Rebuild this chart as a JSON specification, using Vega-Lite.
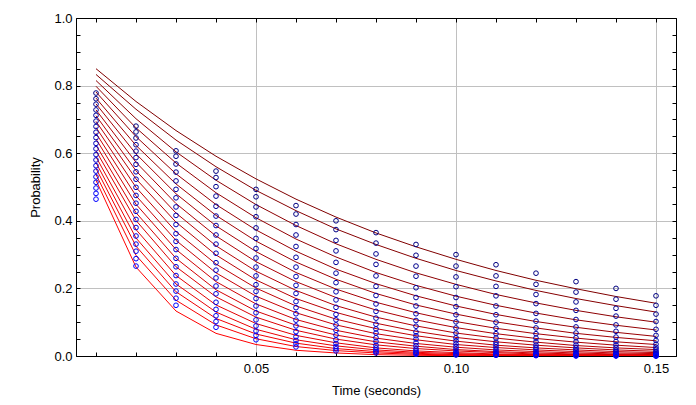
{
"$schema": "https://vega.github.io/schema/vega-lite/v6.json",
"width": 600, "height": 338,
"autosize": {"type": "none"},
"padding": {"left": 76, "top": 18, "right": 20, "bottom": 49},
"background": "white",
"config": {"view": {"stroke": "black", "strokeWidth": 1}, "font": "Liberation Sans"},
"data": {"values": [
{"s":0,"t":0.01,"l":0.850,"c":0.778},{"s":0,"t":0.02,"l":0.753,"c":0.680},{"s":0,"t":0.03,"l":0.667,"c":0.607},{"s":0,"t":0.04,"l":0.591,"c":0.547},{"s":0,"t":0.05,"l":0.524,"c":0.493},{"s":0,"t":0.06,"l":0.464,"c":0.445},{"s":0,"t":0.07,"l":0.411,"c":0.400},{"s":0,"t":0.08,"l":0.364,"c":0.365},{"s":0,"t":0.09,"l":0.323,"c":0.330},{"s":0,"t":0.10,"l":0.286,"c":0.300},{"s":0,"t":0.11,"l":0.253,"c":0.270},{"s":0,"t":0.12,"l":0.224,"c":0.245},{"s":0,"t":0.13,"l":0.199,"c":0.220},{"s":0,"t":0.14,"l":0.176,"c":0.200},{"s":0,"t":0.15,"l":0.156,"c":0.178},
{"s":1,"t":0.01,"l":0.833,"c":0.761},{"s":1,"t":0.02,"l":0.730,"c":0.663},{"s":1,"t":0.03,"l":0.639,"c":0.591},{"s":1,"t":0.04,"l":0.560,"c":0.528},{"s":1,"t":0.05,"l":0.490,"c":0.471},{"s":1,"t":0.06,"l":0.430,"c":0.420},{"s":1,"t":0.07,"l":0.376,"c":0.374},{"s":1,"t":0.08,"l":0.330,"c":0.334},{"s":1,"t":0.09,"l":0.289,"c":0.298},{"s":1,"t":0.10,"l":0.253,"c":0.266},{"s":1,"t":0.11,"l":0.222,"c":0.237},{"s":1,"t":0.12,"l":0.194,"c":0.212},{"s":1,"t":0.13,"l":0.170,"c":0.189},{"s":1,"t":0.14,"l":0.149,"c":0.168},{"s":1,"t":0.15,"l":0.130,"c":0.150},
{"s":2,"t":0.01,"l":0.815,"c":0.745},{"s":2,"t":0.02,"l":0.702,"c":0.645},{"s":2,"t":0.03,"l":0.604,"c":0.568},{"s":2,"t":0.04,"l":0.520,"c":0.501},{"s":2,"t":0.05,"l":0.448,"c":0.441},{"s":2,"t":0.06,"l":0.386,"c":0.389},{"s":2,"t":0.07,"l":0.332,"c":0.342},{"s":2,"t":0.08,"l":0.286,"c":0.302},{"s":2,"t":0.09,"l":0.246,"c":0.266},{"s":2,"t":0.10,"l":0.212,"c":0.234},{"s":2,"t":0.11,"l":0.182,"c":0.206},{"s":2,"t":0.12,"l":0.157,"c":0.182},{"s":2,"t":0.13,"l":0.135,"c":0.160},{"s":2,"t":0.14,"l":0.116,"c":0.141},{"s":2,"t":0.15,"l":0.100,"c":0.124},
{"s":3,"t":0.01,"l":0.798,"c":0.728},{"s":3,"t":0.02,"l":0.675,"c":0.625},{"s":3,"t":0.03,"l":0.571,"c":0.544},{"s":3,"t":0.04,"l":0.483,"c":0.473},{"s":3,"t":0.05,"l":0.409,"c":0.412},{"s":3,"t":0.06,"l":0.346,"c":0.358},{"s":3,"t":0.07,"l":0.293,"c":0.311},{"s":3,"t":0.08,"l":0.247,"c":0.271},{"s":3,"t":0.09,"l":0.209,"c":0.236},{"s":3,"t":0.10,"l":0.177,"c":0.205},{"s":3,"t":0.11,"l":0.150,"c":0.178},{"s":3,"t":0.12,"l":0.127,"c":0.155},{"s":3,"t":0.13,"l":0.107,"c":0.135},{"s":3,"t":0.14,"l":0.091,"c":0.118},{"s":3,"t":0.15,"l":0.077,"c":0.102},
{"s":4,"t":0.01,"l":0.781,"c":0.712},{"s":4,"t":0.02,"l":0.649,"c":0.606},{"s":4,"t":0.03,"l":0.539,"c":0.518},{"s":4,"t":0.04,"l":0.448,"c":0.443},{"s":4,"t":0.05,"l":0.373,"c":0.379},{"s":4,"t":0.06,"l":0.310,"c":0.324},{"s":4,"t":0.07,"l":0.257,"c":0.277},{"s":4,"t":0.08,"l":0.214,"c":0.237},{"s":4,"t":0.09,"l":0.178,"c":0.202},{"s":4,"t":0.10,"l":0.148,"c":0.173},{"s":4,"t":0.11,"l":0.123,"c":0.148},{"s":4,"t":0.12,"l":0.102,"c":0.126},{"s":4,"t":0.13,"l":0.085,"c":0.108},{"s":4,"t":0.14,"l":0.070,"c":0.092},{"s":4,"t":0.15,"l":0.058,"c":0.079},
{"s":5,"t":0.01,"l":0.763,"c":0.695},{"s":5,"t":0.02,"l":0.623,"c":0.587},{"s":5,"t":0.03,"l":0.509,"c":0.493},{"s":5,"t":0.04,"l":0.416,"c":0.414},{"s":5,"t":0.05,"l":0.340,"c":0.348},{"s":5,"t":0.06,"l":0.278,"c":0.292},{"s":5,"t":0.07,"l":0.227,"c":0.245},{"s":5,"t":0.08,"l":0.185,"c":0.206},{"s":5,"t":0.09,"l":0.151,"c":0.173},{"s":5,"t":0.10,"l":0.124,"c":0.146},{"s":5,"t":0.11,"l":0.101,"c":0.122},{"s":5,"t":0.12,"l":0.083,"c":0.103},{"s":5,"t":0.13,"l":0.067,"c":0.086},{"s":5,"t":0.14,"l":0.055,"c":0.073},{"s":5,"t":0.15,"l":0.045,"c":0.061},
{"s":6,"t":0.01,"l":0.746,"c":0.679},{"s":6,"t":0.02,"l":0.598,"c":0.567},{"s":6,"t":0.03,"l":0.480,"c":0.468},{"s":6,"t":0.04,"l":0.385,"c":0.386},{"s":6,"t":0.05,"l":0.309,"c":0.318},{"s":6,"t":0.06,"l":0.247,"c":0.263},{"s":6,"t":0.07,"l":0.198,"c":0.217},{"s":6,"t":0.08,"l":0.159,"c":0.179},{"s":6,"t":0.09,"l":0.128,"c":0.148},{"s":6,"t":0.10,"l":0.102,"c":0.122},{"s":6,"t":0.11,"l":0.082,"c":0.100},{"s":6,"t":0.12,"l":0.066,"c":0.083},{"s":6,"t":0.13,"l":0.053,"c":0.068},{"s":6,"t":0.14,"l":0.042,"c":0.056},{"s":6,"t":0.15,"l":0.034,"c":0.046},
{"s":7,"t":0.01,"l":0.728,"c":0.662},{"s":7,"t":0.02,"l":0.573,"c":0.545},{"s":7,"t":0.03,"l":0.451,"c":0.441},{"s":7,"t":0.04,"l":0.355,"c":0.358},{"s":7,"t":0.05,"l":0.279,"c":0.290},{"s":7,"t":0.06,"l":0.220,"c":0.235},{"s":7,"t":0.07,"l":0.173,"c":0.190},{"s":7,"t":0.08,"l":0.136,"c":0.154},{"s":7,"t":0.09,"l":0.107,"c":0.125},{"s":7,"t":0.10,"l":0.084,"c":0.101},{"s":7,"t":0.11,"l":0.066,"c":0.082},{"s":7,"t":0.12,"l":0.052,"c":0.066},{"s":7,"t":0.13,"l":0.041,"c":0.054},{"s":7,"t":0.14,"l":0.032,"c":0.043},{"s":7,"t":0.15,"l":0.025,"c":0.035},
{"s":8,"t":0.01,"l":0.711,"c":0.646},{"s":8,"t":0.02,"l":0.548,"c":0.523},{"s":8,"t":0.03,"l":0.423,"c":0.416},{"s":8,"t":0.04,"l":0.326,"c":0.331},{"s":8,"t":0.05,"l":0.251,"c":0.263},{"s":8,"t":0.06,"l":0.194,"c":0.209},{"s":8,"t":0.07,"l":0.149,"c":0.166},{"s":8,"t":0.08,"l":0.115,"c":0.132},{"s":8,"t":0.09,"l":0.089,"c":0.105},{"s":8,"t":0.10,"l":0.068,"c":0.083},{"s":8,"t":0.11,"l":0.053,"c":0.066},{"s":8,"t":0.12,"l":0.041,"c":0.053},{"s":8,"t":0.13,"l":0.031,"c":0.042},{"s":8,"t":0.14,"l":0.024,"c":0.033},{"s":8,"t":0.15,"l":0.019,"c":0.026},
{"s":9,"t":0.01,"l":0.694,"c":0.629},{"s":9,"t":0.02,"l":0.524,"c":0.499},{"s":9,"t":0.03,"l":0.396,"c":0.389},{"s":9,"t":0.04,"l":0.299,"c":0.304},{"s":9,"t":0.05,"l":0.225,"c":0.237},{"s":9,"t":0.06,"l":0.170,"c":0.185},{"s":9,"t":0.07,"l":0.129,"c":0.144},{"s":9,"t":0.08,"l":0.097,"c":0.112},{"s":9,"t":0.09,"l":0.073,"c":0.088},{"s":9,"t":0.10,"l":0.055,"c":0.068},{"s":9,"t":0.11,"l":0.042,"c":0.053},{"s":9,"t":0.12,"l":0.032,"c":0.042},{"s":9,"t":0.13,"l":0.024,"c":0.032},{"s":9,"t":0.14,"l":0.018,"c":0.025},{"s":9,"t":0.15,"l":0.014,"c":0.020},
{"s":10,"t":0.01,"l":0.676,"c":0.613},{"s":10,"t":0.02,"l":0.499,"c":0.475},{"s":10,"t":0.03,"l":0.368,"c":0.362},{"s":10,"t":0.04,"l":0.272,"c":0.276},{"s":10,"t":0.05,"l":0.201,"c":0.211},{"s":10,"t":0.06,"l":0.148,"c":0.161},{"s":10,"t":0.07,"l":0.109,"c":0.123},{"s":10,"t":0.08,"l":0.081,"c":0.094},{"s":10,"t":0.09,"l":0.060,"c":0.071},{"s":10,"t":0.10,"l":0.044,"c":0.054},{"s":10,"t":0.11,"l":0.032,"c":0.041},{"s":10,"t":0.12,"l":0.024,"c":0.032},{"s":10,"t":0.13,"l":0.018,"c":0.024},{"s":10,"t":0.14,"l":0.013,"c":0.018},{"s":10,"t":0.15,"l":0.010,"c":0.014},
{"s":11,"t":0.01,"l":0.659,"c":0.596},{"s":11,"t":0.02,"l":0.474,"c":0.452},{"s":11,"t":0.03,"l":0.342,"c":0.339},{"s":11,"t":0.04,"l":0.246,"c":0.254},{"s":11,"t":0.05,"l":0.177,"c":0.191},{"s":11,"t":0.06,"l":0.128,"c":0.143},{"s":11,"t":0.07,"l":0.092,"c":0.107},{"s":11,"t":0.08,"l":0.066,"c":0.080},{"s":11,"t":0.09,"l":0.048,"c":0.060},{"s":11,"t":0.10,"l":0.034,"c":0.045},{"s":11,"t":0.11,"l":0.025,"c":0.034},{"s":11,"t":0.12,"l":0.018,"c":0.025},{"s":11,"t":0.13,"l":0.013,"c":0.019},{"s":11,"t":0.14,"l":0.009,"c":0.014},{"s":11,"t":0.15,"l":0.007,"c":0.011},
{"s":12,"t":0.01,"l":0.642,"c":0.580},{"s":12,"t":0.02,"l":0.449,"c":0.428},{"s":12,"t":0.03,"l":0.315,"c":0.315},{"s":12,"t":0.04,"l":0.220,"c":0.231},{"s":12,"t":0.05,"l":0.154,"c":0.170},{"s":12,"t":0.06,"l":0.108,"c":0.125},{"s":12,"t":0.07,"l":0.076,"c":0.092},{"s":12,"t":0.08,"l":0.053,"c":0.068},{"s":12,"t":0.09,"l":0.037,"c":0.050},{"s":12,"t":0.10,"l":0.026,"c":0.036},{"s":12,"t":0.11,"l":0.018,"c":0.027},{"s":12,"t":0.12,"l":0.013,"c":0.020},{"s":12,"t":0.13,"l":0.009,"c":0.015},{"s":12,"t":0.14,"l":0.006,"c":0.011},{"s":12,"t":0.15,"l":0.004,"c":0.008},
{"s":13,"t":0.01,"l":0.624,"c":0.563},{"s":13,"t":0.02,"l":0.424,"c":0.404},{"s":13,"t":0.03,"l":0.289,"c":0.289},{"s":13,"t":0.04,"l":0.196,"c":0.207},{"s":13,"t":0.05,"l":0.133,"c":0.148},{"s":13,"t":0.06,"l":0.091,"c":0.106},{"s":13,"t":0.07,"l":0.062,"c":0.076},{"s":13,"t":0.08,"l":0.042,"c":0.054},{"s":13,"t":0.09,"l":0.029,"c":0.039},{"s":13,"t":0.10,"l":0.019,"c":0.028},{"s":13,"t":0.11,"l":0.013,"c":0.020},{"s":13,"t":0.12,"l":0.009,"c":0.014},{"s":13,"t":0.13,"l":0.006,"c":0.010},{"s":13,"t":0.14,"l":0.004,"c":0.007},{"s":13,"t":0.15,"l":0.003,"c":0.005},
{"s":14,"t":0.01,"l":0.607,"c":0.547},{"s":14,"t":0.02,"l":0.401,"c":0.380},{"s":14,"t":0.03,"l":0.264,"c":0.264},{"s":14,"t":0.04,"l":0.175,"c":0.184},{"s":14,"t":0.05,"l":0.115,"c":0.128},{"s":14,"t":0.06,"l":0.076,"c":0.089},{"s":14,"t":0.07,"l":0.050,"c":0.062},{"s":14,"t":0.08,"l":0.033,"c":0.043},{"s":14,"t":0.09,"l":0.022,"c":0.030},{"s":14,"t":0.10,"l":0.015,"c":0.021},{"s":14,"t":0.11,"l":0.010,"c":0.014},{"s":14,"t":0.12,"l":0.006,"c":0.010},{"s":14,"t":0.13,"l":0.004,"c":0.007},{"s":14,"t":0.14,"l":0.003,"c":0.005},{"s":14,"t":0.15,"l":0.002,"c":0.003},
{"s":15,"t":0.01,"l":0.589,"c":0.530},{"s":15,"t":0.02,"l":0.374,"c":0.355},{"s":15,"t":0.03,"l":0.238,"c":0.238},{"s":15,"t":0.04,"l":0.151,"c":0.159},{"s":15,"t":0.05,"l":0.096,"c":0.107},{"s":15,"t":0.06,"l":0.061,"c":0.072},{"s":15,"t":0.07,"l":0.039,"c":0.048},{"s":15,"t":0.08,"l":0.024,"c":0.032},{"s":15,"t":0.09,"l":0.015,"c":0.021},{"s":15,"t":0.10,"l":0.010,"c":0.014},{"s":15,"t":0.11,"l":0.006,"c":0.010},{"s":15,"t":0.12,"l":0.004,"c":0.006},{"s":15,"t":0.13,"l":0.003,"c":0.004},{"s":15,"t":0.14,"l":0.002,"c":0.003},{"s":15,"t":0.15,"l":0.001,"c":0.002},
{"s":16,"t":0.01,"l":0.572,"c":0.514},{"s":16,"t":0.02,"l":0.349,"c":0.331},{"s":16,"t":0.03,"l":0.213,"c":0.213},{"s":16,"t":0.04,"l":0.130,"c":0.138},{"s":16,"t":0.05,"l":0.079,"c":0.089},{"s":16,"t":0.06,"l":0.048,"c":0.057},{"s":16,"t":0.07,"l":0.030,"c":0.037},{"s":16,"t":0.08,"l":0.018,"c":0.024},{"s":16,"t":0.09,"l":0.011,"c":0.015},{"s":16,"t":0.10,"l":0.007,"c":0.010},{"s":16,"t":0.11,"l":0.004,"c":0.006},{"s":16,"t":0.12,"l":0.002,"c":0.004},{"s":16,"t":0.13,"l":0.002,"c":0.003},{"s":16,"t":0.14,"l":0.001,"c":0.002},{"s":16,"t":0.15,"l":0.001,"c":0.001},
{"s":17,"t":0.01,"l":0.555,"c":0.497},{"s":17,"t":0.02,"l":0.325,"c":0.310},{"s":17,"t":0.03,"l":0.190,"c":0.192},{"s":17,"t":0.04,"l":0.111,"c":0.119},{"s":17,"t":0.05,"l":0.065,"c":0.074},{"s":17,"t":0.06,"l":0.038,"c":0.046},{"s":17,"t":0.07,"l":0.022,"c":0.028},{"s":17,"t":0.08,"l":0.013,"c":0.018},{"s":17,"t":0.09,"l":0.008,"c":0.011},{"s":17,"t":0.10,"l":0.004,"c":0.007},{"s":17,"t":0.11,"l":0.003,"c":0.004},{"s":17,"t":0.12,"l":0.002,"c":0.003},{"s":17,"t":0.13,"l":0.001,"c":0.002},{"s":17,"t":0.14,"l":0.001,"c":0.001},{"s":17,"t":0.15,"l":0.000,"c":0.001},
{"s":18,"t":0.01,"l":0.537,"c":0.481},{"s":18,"t":0.02,"l":0.298,"c":0.288},{"s":18,"t":0.03,"l":0.165,"c":0.171},{"s":18,"t":0.04,"l":0.092,"c":0.102},{"s":18,"t":0.05,"l":0.051,"c":0.061},{"s":18,"t":0.06,"l":0.028,"c":0.036},{"s":18,"t":0.07,"l":0.016,"c":0.021},{"s":18,"t":0.08,"l":0.009,"c":0.013},{"s":18,"t":0.09,"l":0.005,"c":0.008},{"s":18,"t":0.10,"l":0.003,"c":0.004},{"s":18,"t":0.11,"l":0.002,"c":0.003},{"s":18,"t":0.12,"l":0.001,"c":0.002},{"s":18,"t":0.13,"l":0.000,"c":0.001},{"s":18,"t":0.14,"l":0.000,"c":0.001},{"s":18,"t":0.15,"l":0.000,"c":0.000},
{"s":19,"t":0.01,"l":0.520,"c":0.464},{"s":19,"t":0.02,"l":0.263,"c":0.266},{"s":19,"t":0.03,"l":0.133,"c":0.150},{"s":19,"t":0.04,"l":0.067,"c":0.085},{"s":19,"t":0.05,"l":0.034,"c":0.048},{"s":19,"t":0.06,"l":0.017,"c":0.027},{"s":19,"t":0.07,"l":0.009,"c":0.015},{"s":19,"t":0.08,"l":0.004,"c":0.009},{"s":19,"t":0.09,"l":0.002,"c":0.005},{"s":19,"t":0.10,"l":0.001,"c":0.003},{"s":19,"t":0.11,"l":0.001,"c":0.002},{"s":19,"t":0.12,"l":0.000,"c":0.001},{"s":19,"t":0.13,"l":0.000,"c":0.000},{"s":19,"t":0.14,"l":0.000,"c":0.000},{"s":19,"t":0.15,"l":0.000,"c":0.000}
]},
"layer": [
{
"mark": {"type": "line", "strokeWidth": 1, "clip": true},
"encoding": {
"x": {"field": "t", "type": "quantitative", "scale": {"domain": [0.005, 0.155], "nice": false, "zero": false},
"axis": {"title": "Time (seconds)", "values": [0.01,0.02,0.03,0.04,0.05,0.06,0.07,0.08,0.09,0.10,0.11,0.12,0.13,0.14,0.15],
"labelExpr": "round(datum.value*100) % 5 == 0 ? format(datum.value, '.2f') : ''",
"grid": true, "gridColor": "#c0c0c0", "gridWidth": 1,
"gridOpacity": {"condition": {"test": "round(datum.value*100) % 5 == 0", "value": 1}, "value": 0},
"tickSize": -4, "tickColor": "black", "domainColor": "black", "labelColor": "black", "titleColor": "black",
"labelFontSize": 13, "titleFontSize": 13, "titleFontWeight": "normal", "labelPadding": 10, "titlePadding": 9,
"labelOverlap": false, "labelFlush": false}},
"y": {"field": "l", "type": "quantitative", "scale": {"domain": [0, 1], "nice": false},
"axis": {"title": "Probability", "values": [0,0.05,0.1,0.15,0.2,0.25,0.3,0.35,0.4,0.45,0.5,0.55,0.6,0.65,0.7,0.75,0.8,0.85,0.9,0.95,1],
"labelExpr": "round(datum.value*100) % 20 == 0 ? format(datum.value, '.1f') : ''",
"grid": true, "gridColor": "#c0c0c0", "gridWidth": 1,
"gridOpacity": {"condition": {"test": "round(datum.value*100) % 20 == 0", "value": 1}, "value": 0},
"tickSize": -4, "tickColor": "black", "domainColor": "black", "labelColor": "black", "titleColor": "black",
"labelFontSize": 13, "titleFontSize": 13, "titleFontWeight": "normal", "labelPadding": 8, "titlePadding": 11,
"labelOverlap": false, "labelFlush": false}},
"detail": {"field": "s", "type": "nominal"},
"color": {"field": "s", "type": "quantitative", "scale": {"domain": [0, 19], "range": ["#800000", "#ff0000"]}, "legend": null}
}
},
{
"mark": {"type": "point", "shape": "circle", "filled": false, "size": 22, "strokeWidth": 1, "opacity": 1},
"encoding": {
"x": {"field": "t", "type": "quantitative",
"axis": {"orient": "top", "title": null, "labels": false, "grid": false, "values": [0.01,0.02,0.03,0.04,0.05,0.06,0.07,0.08,0.09,0.10,0.11,0.12,0.13,0.14,0.15], "tickSize": -4, "tickColor": "black", "domainColor": "black"}},
"y": {"field": "c", "type": "quantitative",
"axis": {"orient": "right", "title": null, "labels": false, "grid": false, "values": [0,0.05,0.1,0.15,0.2,0.25,0.3,0.35,0.4,0.45,0.5,0.55,0.6,0.65,0.7,0.75,0.8,0.85,0.9,0.95,1], "tickSize": -4, "tickColor": "black", "domainColor": "black"}},
"color": {"field": "s", "type": "quantitative", "scale": {"domain": [0, 19], "range": ["#000080", "#0000ff"]}, "legend": null}
}
}
],
"resolve": {"scale": {"color": "independent"}, "axis": {"x": "independent", "y": "independent"}}
}
